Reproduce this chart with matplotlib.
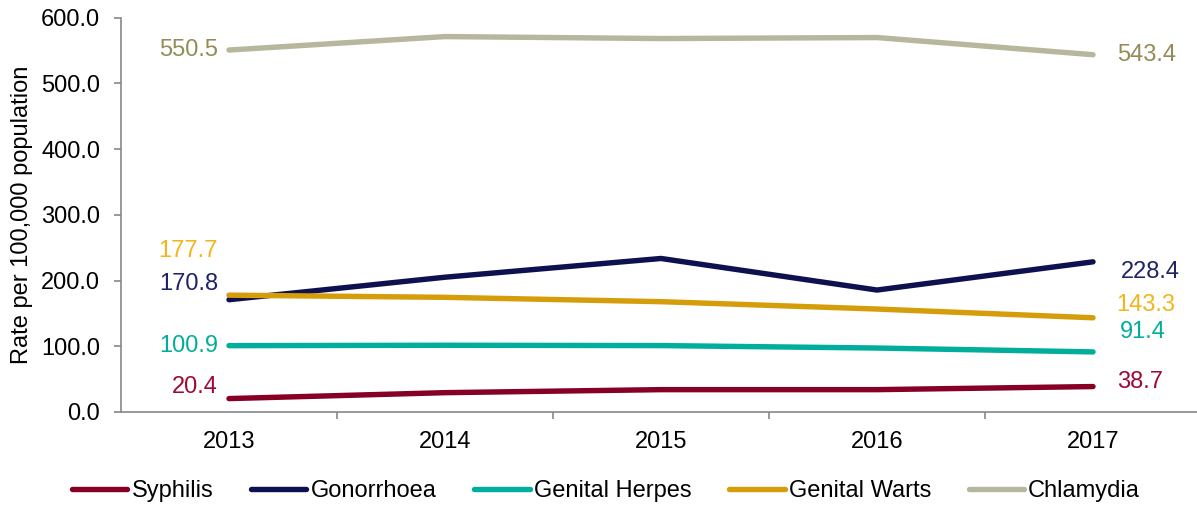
import numpy as np
import matplotlib
matplotlib.use("Agg")
import matplotlib.pyplot as plt
from matplotlib.ticker import FixedLocator

plt.rcParams['font.family'] = ['Liberation Sans', 'DejaVu Sans']

years = ["2013", "2014", "2015", "2016", "2017"]
syphilis = [20.4, 29.4, 34.0, 34.0, 38.7]
gonorrhoea = [170.8, 205.0, 233.5, 185.5, 228.4]
herpes = [100.9, 101.5, 101.0, 97.3, 91.4]
warts = [177.7, 174.4, 167.8, 156.6, 143.3]
chlamydia = [550.5, 571.0, 568.0, 569.5, 543.4]

names = ["Syphilis", "Gonorrhoea", "Genital Herpes", "Genital Warts", "Chlamydia"]
line_colors = ["#850024", "#0E1150", "#00AE9B", "#D69D0A", "#B7B79D"]
label_colors = ["#9E0A34", "#1F2466", "#00AE9B", "#F2B51C", "#948B57"]

fig = plt.figure(figsize=(11.97, 5.07), dpi=100)
ax = fig.add_axes([121 / 1197, 95 / 507, 1076 / 1197, 394.5 / 507])

x = np.arange(len(years))
series = [syphilis, gonorrhoea, herpes, warts, chlamydia]
for vals, name, c in zip(series, names, line_colors):
    ax.plot(x, vals, color=c, lw=3.9, solid_capstyle='round', label=name)

# vertical nudges of the end labels, in points (up is positive)
left_dy = [8, 11, 0, 32, 0]
right_dy = [3.5, -7, 14, 9, 0]
right_dx = [17, 20, 19, 17, 17]
for vals, c, ly, ry, rx in zip(series, label_colors, left_dy, right_dy, right_dx):
    ax.annotate(f"{vals[0]:.1f}", (0, vals[0]), xytext=(-8, ly),
                textcoords='offset points', ha='right', va='center',
                color=c, fontsize=17)
    ax.annotate(f"{vals[-1]:.1f}", (4, vals[-1]), xytext=(rx, ry),
                textcoords='offset points', ha='left', va='center',
                color=c, fontsize=17)

ax.set_xlim(-0.5, -0.5 + 1076 / 216)
ax.set_ylim(0, 600)
ax.set_yticks(np.arange(0, 601, 100))
ax.set_yticklabels([f"{v:.1f}" for v in np.arange(0, 601, 100)])
ax.set_xticks(x)
ax.set_xticklabels(years)
ax.xaxis.set_minor_locator(FixedLocator(np.arange(0.5, 4.6, 1)))
ax.tick_params(axis='x', which='major', length=0, pad=14, labelsize=17)
ax.tick_params(axis='x', which='minor', length=5, color='#878787', width=1.2)
ax.tick_params(axis='y', length=5, color='#878787', width=1.2, pad=10, labelsize=17)

for s in ['top', 'right']:
    ax.spines[s].set_visible(False)
for s in ['left', 'bottom']:
    ax.spines[s].set_color('#878787')
    ax.spines[s].set_linewidth(1.2)

ax.set_ylabel("Rate per 100,000 population", fontsize=17)
ax.yaxis.set_label_coords(-88 / 1076, 0.5)

fig.legend(loc='center', bbox_to_anchor=(606 / 1197, 1 - 491 / 507), ncol=5,
           frameon=False, fontsize=17, handlelength=2.35, handletextpad=0.17,
           columnspacing=1.6)

fig.savefig("out.png", dpi=100)
